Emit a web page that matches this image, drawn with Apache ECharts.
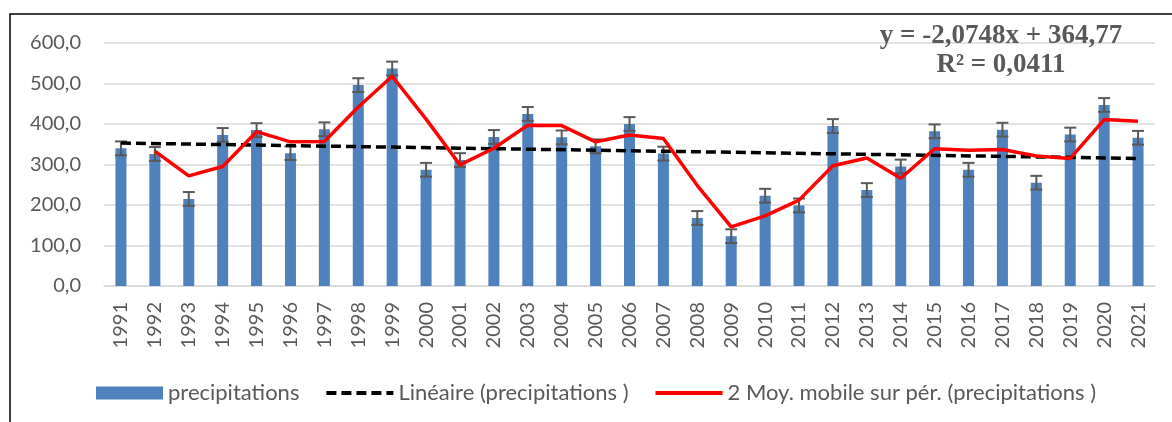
<!DOCTYPE html>
<html>
<head>
<meta charset="utf-8">
<script src="https://cdn.jsdelivr.net/npm/echarts@6/dist/echarts.min.js"></script>
<style>
  html, body { margin: 0; padding: 0; background: #fff; }
  #chart { width: 1172px; height: 422px; }
</style>
</head>
<body>
<div id="chart"></div>
<script>
// values
const years = [
  "1991", "1992", "1993", "1994", "1995", "1996", "1997", "1998", "1999", "2000",
  "2001", "2002", "2003", "2004", "2005", "2006", "2007", "2008", "2009", "2010",
  "2011", "2012", "2013", "2014", "2015", "2016", "2017", "2018", "2019", "2020", "2021"
];
const precipitations = [
  340, 326, 215, 373, 385, 328, 387, 496, 537, 287,
  311, 368, 425, 367, 345, 400, 327, 168, 123, 223,
  199, 395, 237, 295, 382, 287, 386, 255, 374, 447, 366
];
const movingAvg = [
  null, 333, 272, 295, 381, 356, 357, 442, 518, 412,
  299, 340, 397, 396, 356, 373, 364, 248, 146, 173,
  212, 297, 316, 266, 339, 335, 337, 321, 315, 411, 407
];
const trendEnds = [353, 315];
const errorMargin = 17;
const equationLines = ["y = -2,0748x + 364,77", "R² = 0,0411"];

const trend = years.map((_, i) => (i === 0 ? trendEnds[0] : i === years.length - 1 ? trendEnds[1] : null));

const grey = "#595959";
const font = "Lato, 'Open Sans', sans-serif";

const chart = echarts.init(document.getElementById("chart"));

chart.setOption({
  animation: false,
  grid: { left: 104, right: 17, top: 43, bottom: 136 },
  legend: {
    left: 91,
    top: 377,
    itemWidth: 67,
    itemHeight: 13,
    itemGap: 25,
    textStyle: { color: grey, fontSize: 22, fontFamily: font },
    data: [
      { name: "precipitations", icon: "rect" },
      {
        name: "Linéaire (precipitations )",
        itemStyle: { opacity: 0 },
        lineStyle: { width: 4, type: [10, 5] }
      },
      {
        name: "2 Moy. mobile sur pér. (precipitations )",
        itemStyle: { opacity: 0 },
        lineStyle: { width: 4 }
      }
    ]
  },
  xAxis: {
    type: "category",
    data: years,
    axisTick: { show: false },
    axisLine: { lineStyle: { color: "#d9d9d9", width: 1.5 } },
    axisLabel: { rotate: 90, color: grey, fontSize: 20, fontFamily: font, margin: 16 }
  },
  yAxis: {
    type: "value",
    min: 0,
    max: 600,
    interval: 100,
    axisLabel: {
      color: grey,
      fontSize: 20,
      fontFamily: font,
      margin: 23,
      formatter: (v) => v.toFixed(1).replace(".", ",")
    },
    splitLine: { lineStyle: { color: "#d9d9d9", width: 1.5 } }
  },
  series: [
    {
      name: "precipitations",
      type: "bar",
      barWidth: 11,
      itemStyle: { color: "#4f81bd" },
      data: precipitations
    },
    {
      name: "errors",
      type: "custom",
      z: 3,
      renderItem: (params, api) => {
        const x = api.value(0);
        const v = api.value(1);
        const top = api.coord([x, v + errorMargin]);
        const bot = api.coord([x, v - errorMargin]);
        const hw = 6;
        const style = { stroke: grey, lineWidth: 2 };
        return {
          type: "group",
          children: [
            { type: "line", shape: { x1: top[0], y1: top[1], x2: bot[0], y2: bot[1] }, style },
            { type: "line", shape: { x1: top[0] - hw, y1: top[1], x2: top[0] + hw, y2: top[1] }, style },
            { type: "line", shape: { x1: bot[0] - hw, y1: bot[1], x2: bot[0] + hw, y2: bot[1] }, style }
          ]
        };
      },
      data: precipitations.map((v, i) => [i, v])
    },
    {
      name: "Linéaire (precipitations )",
      type: "line",
      z: 4,
      symbol: "none",
      connectNulls: true,
      itemStyle: { color: "#000" },
      lineStyle: { color: "#000", width: 3.5, type: [10, 5] },
      data: trend
    },
    {
      name: "2 Moy. mobile sur pér. (precipitations )",
      type: "line",
      z: 5,
      symbol: "none",
      itemStyle: { color: "#ff0000" },
      lineStyle: { color: "#ff0000", width: 3.5 },
      data: movingAvg
    }
  ],
  graphic: [
    {
      type: "rect",
      silent: true,
      shape: { x: 10, y: 14, width: 1300, height: 600 },
      style: { fill: "none", stroke: "#000", lineWidth: 1.5 }
    },
    {
      type: "text",
      z: 10,
      x: 1001,
      y: 22,
      style: {
        text: equationLines.join("\n"),
        align: "center",
        fill: grey,
        font: "bold 27px 'Liberation Serif', 'Times New Roman', serif",
        lineHeight: 29
      }
    }
  ]
});
</script>
</body>
</html>
